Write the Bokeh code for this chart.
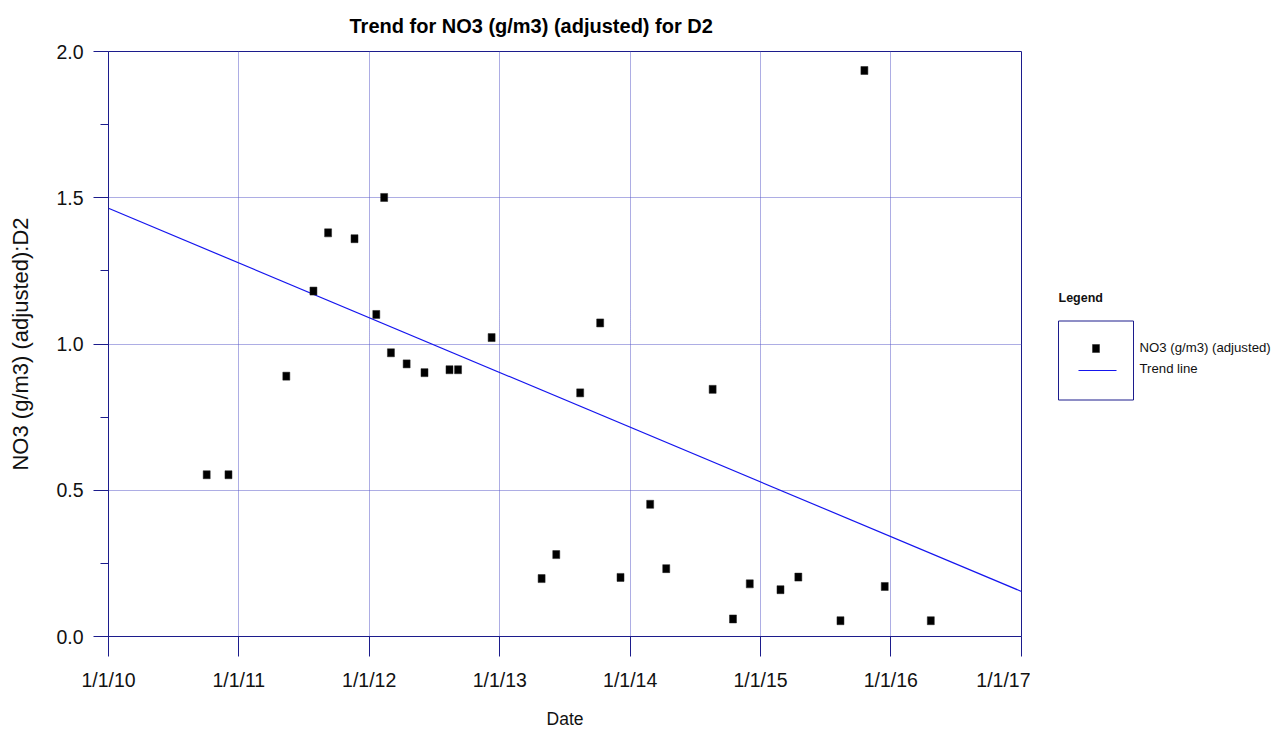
import pandas as pd
from bokeh.plotting import figure
from bokeh.models import (Range1d, FixedTicker, CustomJSTickFormatter, ColumnDataSource,
                          Label, Title)
from bokeh.layouts import row
from bokeh.embed import file_html
from bokeh.resources import INLINE

# ---------------- data ----------------
sample_dates = ["2010-10-03", "2010-12-03", "2011-05-14", "2011-07-29", "2011-09-08",
                "2011-11-21", "2012-01-21", "2012-02-12", "2012-03-02", "2012-04-15",
                "2012-06-04", "2012-08-13", "2012-09-06", "2012-12-09", "2013-04-28",
                "2013-06-08", "2013-08-14", "2013-10-09", "2013-12-05", "2014-02-26",
                "2014-04-12", "2014-08-20", "2014-10-16", "2014-12-02", "2015-02-26",
                "2015-04-17", "2015-08-13", "2015-10-19", "2015-12-15", "2016-04-22"]
no3_values = [0.553, 0.553, 0.890, 1.181, 1.380,
              1.360, 1.101, 1.501, 0.970, 0.932,
              0.902, 0.912, 0.912, 1.022, 0.198,
              0.280, 0.833, 1.072, 0.202, 0.452,
              0.232, 0.845, 0.060, 0.180, 0.160,
              0.203, 0.054, 1.935, 0.171, 0.054]
trend_dates = ["2010-01-01", "2017-01-01"]
trend_values = [1.464, 0.154]
x_tick_dates = ["2010-01-01", "2011-01-01", "2012-01-01", "2013-01-01",
                "2014-01-01", "2015-01-01", "2016-01-01", "2017-01-01"]
y_ticks = [0.0, 0.5, 1.0, 1.5, 2.0]
y_minor_ticks = [0.25, 0.75, 1.25, 1.75]

title_text = "Trend for NO3 (g/m3) (adjusted) for D2"
x_label = "Date"
y_label = "NO3 (g/m3) (adjusted):D2"
series_label = "NO3 (g/m3) (adjusted)"
trend_label = "Trend line"

# ---------------- styles ----------------
FONT = "Liberation Sans"
AXIS_COLOR = "#1c1c8c"
GRID_COLOR = "#5a5ac8"
TREND_COLOR = "#1515ee"

to_ms = lambda s: pd.Timestamp(s).value // 10**6
pts = ColumnDataSource(dict(x=[to_ms(d) for d in sample_dates], y=no3_values))
trend = ColumnDataSource(dict(x=[to_ms(d) for d in trend_dates], y=trend_values))
x_ticks = [to_ms(d) for d in x_tick_dates]

p = figure(width=1030, height=733, output_backend="svg", toolbar_location=None,
           x_range=Range1d(x_ticks[0], x_ticks[-1]), y_range=Range1d(0, 2),
           min_border_left=108, min_border_right=9, min_border_top=51, min_border_bottom=97)
p.title = Title(text=title_text, align="left", offset=241, standoff=26,
                vertical_align="top",
                text_font=FONT, text_font_size="20px", text_font_style="bold",
                text_color="black")
p.outline_line_color = AXIS_COLOR
p.outline_line_width = 1
p.background_fill_color = "white"
p.border_fill_color = "white"

# axes
p.xaxis.ticker = FixedTicker(ticks=x_ticks)
p.xaxis.formatter = CustomJSTickFormatter(code="""
    const d = new Date(tick);
    return (d.getUTCMonth()+1) + "/" + d.getUTCDate() + "/" + String(d.getUTCFullYear()).slice(2);
""")
p.yaxis.ticker = FixedTicker(ticks=y_ticks, minor_ticks=y_minor_ticks)
p.yaxis.formatter = CustomJSTickFormatter(code="return tick.toFixed(1);")

for ax in (p.xaxis, p.yaxis):
    ax.axis_line_color = AXIS_COLOR
    ax.axis_line_width = 1
    ax.major_tick_line_color = AXIS_COLOR
    ax.minor_tick_line_color = AXIS_COLOR
    ax.major_tick_in = 0
    ax.minor_tick_in = 0
    ax.major_label_text_font = FONT
    ax.major_label_text_font_size = "19.5px"
    ax.major_label_text_color = "#111111"
    ax.axis_label_text_font = FONT
    ax.axis_label_text_font_style = "normal"
    ax.axis_label_text_color = "#111111"

p.xaxis.major_tick_out = 20
p.xaxis.minor_tick_line_color = None
p.xaxis.major_label_standoff = 12
p.xaxis.axis_label = x_label
p.xaxis.axis_label_text_font_size = "17.5px"
p.xaxis.axis_label_standoff = 15

p.yaxis.major_tick_out = 15
p.yaxis.minor_tick_out = 8
p.yaxis.major_label_standoff = 10
p.yaxis.axis_label = y_label
p.yaxis.axis_label_text_font_size = "22px"
p.yaxis.axis_label_standoff = 20

# grid
p.xgrid.ticker = FixedTicker(ticks=x_ticks)
p.ygrid.ticker = FixedTicker(ticks=y_ticks)
for g in (p.xgrid, p.ygrid):
    g.grid_line_color = GRID_COLOR
    g.grid_line_dash = "1 1"
    g.grid_line_width = 1

# glyphs
p.line("x", "y", source=trend, line_color=TREND_COLOR, line_width=1.2)
p.rect("x", "y", width=7, height=8, width_units="screen", height_units="screen",
       source=pts, fill_color="black", line_color="#222222", line_width=0.5)

# ---------------- legend panel (pixel coordinates; frame aligned with main frame) ----------------
lg = figure(width=255, height=733, output_backend="svg", toolbar_location=None,
            x_range=Range1d(1030, 1285), y_range=Range1d(636, 51),
            min_border=0, min_border_left=0, min_border_right=0,
            min_border_top=51, min_border_bottom=97)
lg.axis.visible = False
lg.grid.visible = False
lg.outline_line_color = None
lg.background_fill_color = "white"
lg.border_fill_color = "white"

lg.add_layout(Label(x=1058, y=297, text="Legend", text_font=FONT, text_font_size="12.5px",
                    text_font_style="bold", text_baseline="middle", text_color="#111111"))
lg.quad(left=[1058], right=[1133], top=[320.5], bottom=[399.5],
        fill_color=None, line_color=AXIS_COLOR, line_width=1)
lg.rect(x=[1095.5], y=[348], width=7, height=8, width_units="screen", height_units="screen",
        fill_color="black", line_color="#222222", line_width=0.5)
lg.line(x=[1078, 1116], y=[370, 370], line_color=TREND_COLOR, line_width=1.2)
lg.add_layout(Label(x=1139, y=347, text=series_label, text_font=FONT, text_font_size="13.2px",
                    text_baseline="middle", text_color="#111111"))
lg.add_layout(Label(x=1139, y=368, text=trend_label, text_font=FONT, text_font_size="13.2px",
                    text_baseline="middle", text_color="#111111"))

layout = row(p, lg, spacing=0)
open("out.html", "w").write(file_html(layout, INLINE))
